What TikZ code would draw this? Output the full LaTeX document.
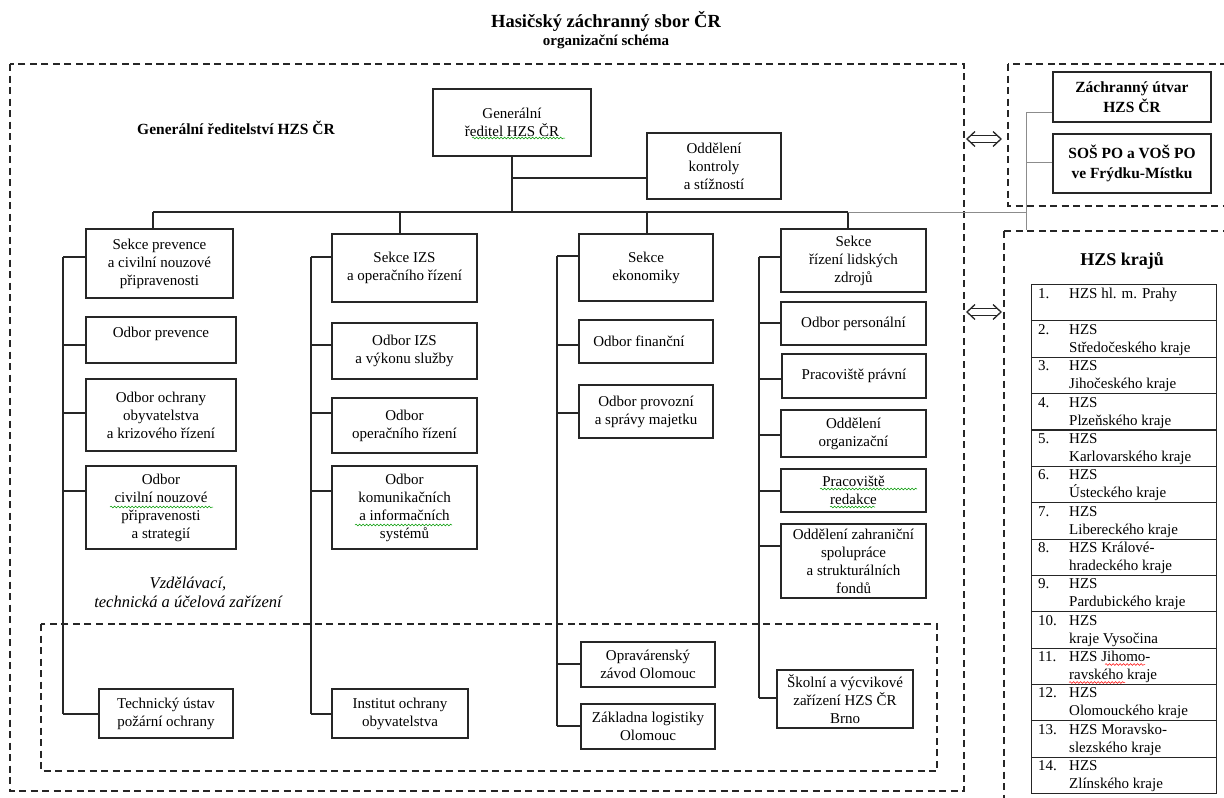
\documentclass[tikz,border=0pt]{standalone}
\usepackage{fontspec}
\setmainfont{Liberation Serif}
\usetikzlibrary{decorations.pathmorphing}
\begin{document}
\begin{tikzpicture}[x=1pt,y=-1pt,
 box/.style={draw=black!85, line width=1.1pt, inner sep=0pt, align=center, font=\fontsize{15}{18}\selectfont},
 bbox/.style={box, font=\fontsize{15.5}{20}\selectfont\bfseries},
 conn/.style={draw=black!85, line width=1.1pt},
 gconn/.style={draw=black!45, line width=0.9pt},
 dbox/.style={draw=black!85, line width=1.1pt, dash pattern=on 7pt off 4.5pt},
 rowbox/.style={draw=black!85, line width=1.1pt, inner sep=0pt},
 rtxt/.style={inner sep=0pt, anchor=base west, font=\fontsize{15}{18}\selectfont},
 squig/.style={decorate, decoration={snake, segment length=3.5pt, amplitude=0.9pt}, line width=0.5pt},
 darrow/.style={draw=black!85, line width=1.3pt, line join=miter},
]
\useasboundingbox (0,0) rectangle (1224,798);
\clip (0,0) rectangle (1224,798);
\newcommand\mybox[7][box]{\node[#1, minimum width={#5pt-#3pt}, minimum height={#6pt-#4pt}] (#2) at ({(#3+#5)/2},{(#4+#6)/2}) {#7};}

% titles
\node[font=\fontsize{18.5}{22}\selectfont\bfseries] (title) at (606,21) {Hasičský záchranný sbor ČR};
\node[font=\fontsize{15}{18}\selectfont\bfseries] (subtitle) at (606,42) {organizační schéma};

% dashed containers
\draw[dbox] (10,64) rectangle (964,791);
\draw[dbox] (41,624) rectangle (937,771);
\draw[dbox] (1008,64) rectangle (1240,206);
\draw[dbox] (1004,231) rectangle (1240,815);

\node[font=\fontsize{15.5}{18}\selectfont\bfseries] (gred) at (236,128) {Generální ředitelství HZS ČR};
\node[align=center, font=\fontsize{16.5}{19}\selectfont\itshape] (vzd) at (188,592) {Vzdělávací,\\technická a účelová zařízení};

% boxes
\mybox{gr}{433}{89}{591}{156}{Generální\\ředitel HZS ČR}
\mybox{okon}{647}{133}{781}{199}{Oddělení\\kontroly\\a stížností}
\mybox{sp}{86}{229}{233}{298}{Sekce prevence\\a civilní nouzové\\připravenosti}
\mybox{op}{86}{317}{236}{363}{Odbor prevence\\[-8pt]\strut}
\mybox{oo}{86}{379}{236}{451}{Odbor ochrany\\obyvatelstva\\a krizového řízení}
\mybox{oc}{86}{466}{236}{549}{Odbor\\civilní nouzové\\připravenosti\\a strategií}
\mybox{tu}{99}{689}{233}{738}{Technický ústav\\požární ochrany}
\mybox{si}{332}{234}{477}{302}{Sekce IZS\\a operačního řízení}
\mybox{oi}{332}{323}{477}{379}{Odbor IZS\\a výkonu služby}
\mybox{oor}{332}{398}{477}{453}{Odbor\\operačního řízení}
\mybox{okm}{332}{466}{477}{549}{Odbor\\komunikačních\\a informačních\\systémů}
\mybox{io}{332}{689}{468}{738}{Institut ochrany\\obyvatelstva}
\mybox{se}{579}{234}{713}{301}{Sekce\\ekonomiky}
\mybox{of}{579}{320}{713}{363}{Odbor finanční\hspace{14pt}}
\mybox{opr}{579}{385}{713}{438}{Odbor provozní\\a správy majetku}
\mybox{oz}{581}{642}{715}{687}{Opravárenský\\závod Olomouc}
\mybox{zl}{581}{704}{715}{749}{Základna logistiky\\Olomouc}
\mybox{sr}{781}{229}{926}{292}{Sekce\\řízení lidských\\zdrojů}
\mybox{ope}{781}{302}{926}{345}{Odbor personální}
\mybox{pp}{782}{354}{926}{398}{Pracoviště právní}
\mybox{oorg}{781}{410}{926}{457}{Oddělení\\organizační}
\mybox{pr}{781}{469}{926}{512}{Pracoviště\\redakce}
\mybox{oza}{781}{524}{926}{598}{Oddělení zahraniční\\spolupráce\\a strukturálních\\fondů}
\mybox{sv}{777}{670}{913}{728}{Školní a výcvikové\\zařízení HZS ČR\\Brno}
\mybox[bbox]{zu}{1053}{72}{1211}{122}{Záchranný útvar\\HZS ČR}
\mybox[bbox]{sos}{1053}{134}{1211}{193}{SOŠ PO a VOŠ PO\\ve Frýdku-Místku}

% top connectors
\coordinate (bus) at (512,212);
\coordinate (kb) at (512,178);
\draw[conn] (gr.south) -- (bus);
\draw[conn] (kb) -- (kb -| okon.west);
\coordinate (busL) at (153,212);
\coordinate (b2) at (400,212);
\coordinate (b3) at (647,212);
\coordinate (busR) at (848,212);
\draw[conn] (busL) -- (busR);
\draw[conn] (busL) -- (busL |- sp.north);
\draw[conn] (b2) -- (b2 |- si.north);
\draw[conn] (b3) -- (b3 |- se.north);
\draw[conn] (busR) -- (busR |- sr.north);

% grey link to right
\coordinate (gR) at (1026,212);
\coordinate (gT) at (1026,112);
\coordinate (gM) at (1026,162);
\coordinate (gB) at (1026,230);
\draw[gconn] (busR) -- (gR);
\draw[gconn] (gT) -- (gB);
\draw[gconn] (gT) -- (gT -| zu.west);
\draw[gconn] (gM) -- (gM -| sos.west);

% column trees
\foreach \y/\b in {257/sp,345/op,413/oo,491/oc,714/tu}{
  \coordinate (k1\b) at (63,\y);
  \draw[conn] (k1\b) -- (k1\b -| \b.west);
}
\draw[conn] (k1sp) -- (k1tu);
\foreach \y/\b in {257/si,345/oi,413/oor,491/okm,714/io}{
  \coordinate (k2\b) at (311,\y);
  \draw[conn] (k2\b) -- (k2\b -| \b.west);
}
\draw[conn] (k2si) -- (k2io);
\foreach \y/\b in {256/se,345/of,413/opr,664/oz,726/zl}{
  \coordinate (k3\b) at (557,\y);
  \draw[conn] (k3\b) -- (k3\b -| \b.west);
}
\draw[conn] (k3se) -- (k3zl);
\foreach \y/\b in {257/sr,323/ope,379/pp,435/oorg,491/pr,546/oza,698/sv}{
  \coordinate (k4\b) at (759,\y);
  \draw[conn] (k4\b) -- (k4\b -| \b.west);
}
\draw[conn] (k4sr) -- (k4sv);

% double arrows
\foreach \a/\yy in {1/139,2/312}{
  \coordinate (da\a l) at (967,\yy);
  \coordinate (da\a r) at (1001,\yy);
  \draw[darrow] (da\a l) ++(8,-7.5) -- (da\a l) -- ++(8,7.5);
  \draw[darrow] (da\a r) ++(-8,-7.5) -- (da\a r) -- ++(-8,7.5);
  \draw[darrow] (da\a l) ++(4,-3.4) -- ++(26,0);
  \draw[darrow] (da\a l) ++(4,3.4) -- ++(26,0);
}

% HZS krajů
\node[font=\fontsize{18}{21}\selectfont\bfseries] (kraje) at (1122,261) {HZS krajů};
\foreach \n/\num/\la/\lb in {0/1./HZS hl. m. Prahy/{}, 1/2./HZS/Středočeského kraje, 2/3./HZS/Jihočeského kraje, 3/4./HZS/Plzeňského kraje, 4/5./HZS/Karlovarského kraje, 5/6./HZS/Ústeckého kraje, 6/7./HZS/Libereckého kraje, 7/8./HZS Králové-/hradeckého  kraje, 8/9./HZS/Pardubického kraje, 9/10./HZS/kraje Vysočina, 10/11./HZS Jihomo-/ravského kraje, 11/12./HZS/Olomouckého kraje, 12/13./HZS Moravsko-/slezského kraje, 13/14./HZS/Zlínského kraje}{
  \pgfmathsetmacro\rt{284+\n*36.357}
  \node[rowbox, minimum width=185pt, minimum height=36.357pt, anchor=north west] (row\n) at (1031,\rt) {};
  \node[rtxt] (rn\n) at (1038,{\rt+14}) {\num};
  \node[rtxt] (ra\n) at (1069,{\rt+14}) {\la};
  \node[rtxt] (rb\n) at (1069,{\rt+32}) {\lb};
}

% spell-check squiggles
\draw[squig, green!60!black] (472,138) -- (565,138);
\draw[squig, green!60!black] (110,507) -- (213,507);
\draw[squig, green!60!black] (355,525) -- (452,525);
\draw[squig, green!60!black] (820,489) -- (917,489);
\draw[squig, green!60!black] (830,507) -- (875,507);
\draw[squig, red] (1105,664.5) -- (1145,664.5);
\draw[squig, red] (1069,682.5) -- (1125,682.5);
\end{tikzpicture}
\end{document}
